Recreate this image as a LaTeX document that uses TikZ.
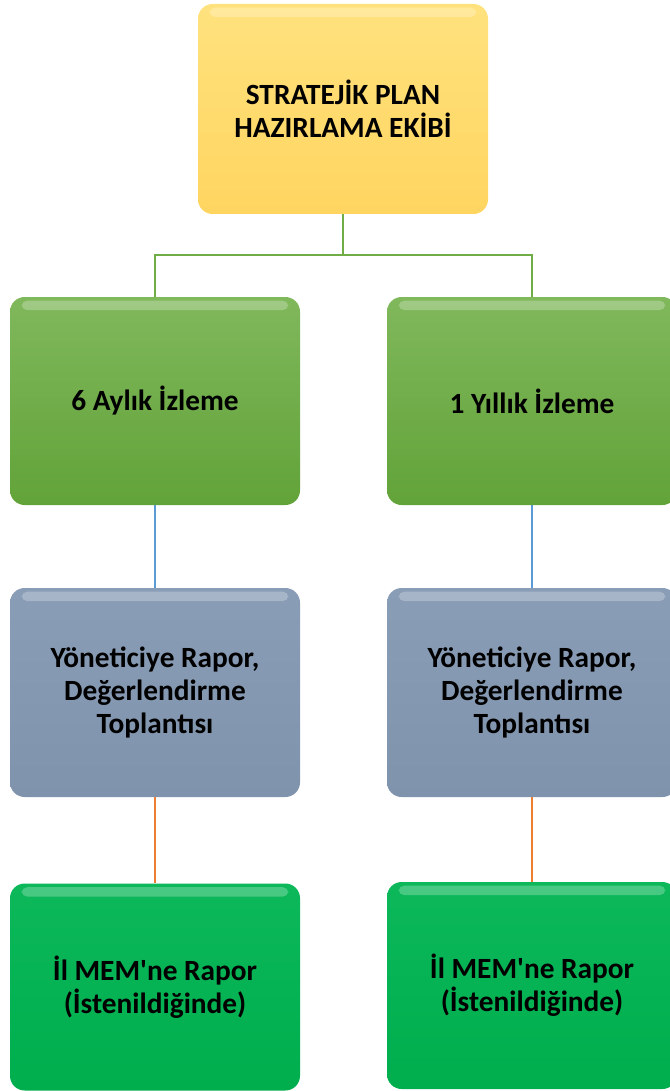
\documentclass[tikz,border=0pt]{standalone}
\usepackage{fontspec}
\setmainfont{Carlito}[Ligatures=TeXOff]
\definecolor{yelT}{HTML}{FFE27E}
\definecolor{yelB}{HTML}{FFD560}
\definecolor{grnT}{HTML}{80B85C}
\definecolor{grnB}{HTML}{62A339}
\definecolor{gryT}{HTML}{8A9DB6}
\definecolor{gryB}{HTML}{8093AC}
\definecolor{bgrT}{HTML}{0CB85A}
\definecolor{bgrB}{HTML}{00AE4E}
\definecolor{lineG}{HTML}{70AD47}
\definecolor{lineB}{HTML}{5B9BD5}
\definecolor{lineO}{HTML}{ED7D31}
\tikzset{
  box/.style={rounded corners=11pt, minimum width=217.5pt, align=center,
    font=\bfseries\fontsize{22}{25}\selectfont, text=black, inner sep=0pt},
  yelbox/.style={box, top color=yelT, bottom color=yelB, minimum height=157.5pt},
  grnbox/.style={box, top color=grnT, bottom color=grnB, minimum height=156pt},
  grybox/.style={box, top color=gryT, bottom color=gryB, minimum height=156.75pt},
  bgrbox/.style={box, top color=bgrT, bottom color=bgrB, minimum height=155.25pt},
  conn/.style={line width=1.6pt},
  shine/.style={white, opacity=0.25, rounded corners=4pt}
}
\begin{document}
\begin{tikzpicture}[x=0.75pt,y=-0.75pt]
\useasboundingbox (0,0) rectangle (669,1091);
\node[yelbox] (top) at (343,109) {STRATEJİK PLAN\\HAZIRLAMA EKİBİ};
\node[grnbox] (g1) at (155,401) {6 Aylık İzleme};
\node[grnbox] (g2) at (532,401) {1 Yıllık İzleme};
\node[grybox] (r1) at (155,692.5) {Yöneticiye Rapor,\\Değerlendirme\\Toplantısı};
\node[grybox] (r2) at (532,692.5) {Yöneticiye Rapor,\\Değerlendirme\\Toplantısı};
\node[bgrbox] (b1) at (155,987) {İl MEM'ne Rapor\\(İstenildiğinde)};
\node[bgrbox] (b2) at (532,985.5) {İl MEM'ne Rapor\\(İstenildiğinde)};
\foreach \n in {top,g1,g2,r1,r2,b1,b2}{
  \fill[shine] ([xshift=9pt,yshift=-3pt]\n.north west) rectangle ([xshift=-9pt,yshift=-10pt]\n.north east);
}
\coordinate (j) at (343,255);
\draw[conn,lineG] (top.south) -- (j);
\draw[conn,lineG] (g1.north) |- (j) -| (g2.north);
\draw[conn,lineB] (g1.south) -- (r1.north);
\draw[conn,lineB] (g2.south) -- (r2.north);
\draw[conn,lineO] (r1.south) -- (b1.north);
\draw[conn,lineO] (r2.south) -- (b2.north);
\end{tikzpicture}
\end{document}
